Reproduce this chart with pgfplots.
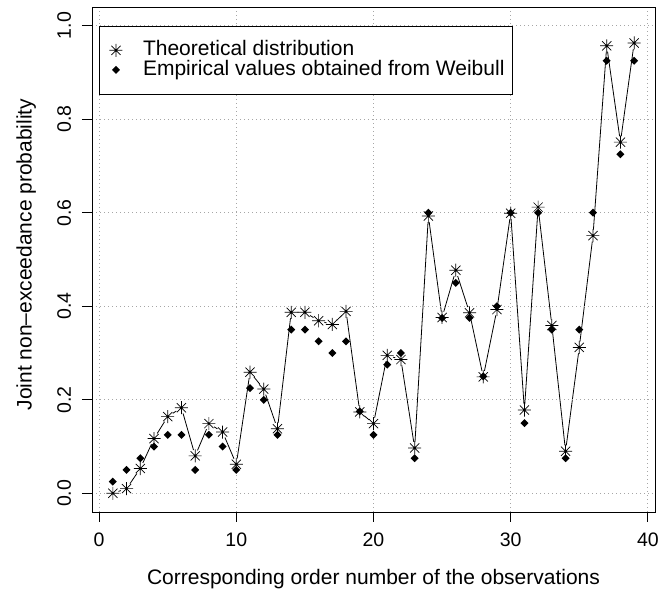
\documentclass[border=0pt]{standalone}
\usepackage{fontspec}
\setmainfont{Liberation Sans}
\usepackage{pgfplots}
\usepackage{pgfplotstable}
\pgfplotsset{compat=1.18}
\pgfdeclareplotmark{rstar}{%
  \pgfpathmoveto{\pgfqpoint{-\pgfplotmarksize}{0pt}}%
  \pgfpathlineto{\pgfqpoint{\pgfplotmarksize}{0pt}}%
  \pgfpathmoveto{\pgfqpoint{0pt}{-\pgfplotmarksize}}%
  \pgfpathlineto{\pgfqpoint{0pt}{\pgfplotmarksize}}%
  \pgfpathmoveto{\pgfqpoint{-0.7071\pgfplotmarksize}{-0.7071\pgfplotmarksize}}%
  \pgfpathlineto{\pgfqpoint{0.7071\pgfplotmarksize}{0.7071\pgfplotmarksize}}%
  \pgfpathmoveto{\pgfqpoint{-0.7071\pgfplotmarksize}{0.7071\pgfplotmarksize}}%
  \pgfpathlineto{\pgfqpoint{0.7071\pgfplotmarksize}{-0.7071\pgfplotmarksize}}%
  \pgfusepathqstroke}
\pgfdeclareplotmark{rdiamond}{%
  \pgfpathmoveto{\pgfqpoint{0pt}{\pgfplotmarksize}}%
  \pgfpathlineto{\pgfqpoint{\pgfplotmarksize}{0pt}}%
  \pgfpathlineto{\pgfqpoint{0pt}{-\pgfplotmarksize}}%
  \pgfpathlineto{\pgfqpoint{-\pgfplotmarksize}{0pt}}%
  \pgfpathclose
  \pgfusepathqfill}
\pgfdeclareplotmark{gapdisk}{%
  \pgfpathcircle{\pgfpointorigin}{\pgfplotmarksize}%
  \pgfusepathqfill}
\pgfplotsset{markleg/.style={legend image code/.code={\draw[##1] plot coordinates {(8pt,0pt)}; \path (0pt,0pt) (16pt,0pt);}}}
\pgfplotstableread{
i theo emp
1 0.000 0.025
2 0.010 0.050
3 0.053 0.075
4 0.117 0.100
5 0.164 0.125
6 0.183 0.125
7 0.080 0.050
8 0.149 0.125
9 0.131 0.100
10 0.062 0.050
11 0.259 0.225
12 0.223 0.200
13 0.138 0.125
14 0.387 0.350
15 0.387 0.350
16 0.369 0.325
17 0.361 0.300
18 0.389 0.325
19 0.174 0.175
20 0.149 0.125
21 0.295 0.275
22 0.286 0.300
23 0.097 0.075
24 0.593 0.600
25 0.376 0.375
26 0.477 0.450
27 0.386 0.375
28 0.249 0.250
29 0.393 0.400
30 0.599 0.600
31 0.178 0.150
32 0.612 0.600
33 0.359 0.350
34 0.090 0.075
35 0.312 0.350
36 0.551 0.600
37 0.957 0.925
38 0.751 0.725
39 0.963 0.925
}\datatab
\begin{document}
\fontsize{21}{25}\selectfont
\begin{tikzpicture}
\useasboundingbox (0pt,0pt) rectangle (659pt,591pt);
\begin{axis}[
  at={(92pt,79pt)}, anchor=south west,
  width=563pt, height=505pt, scale only axis,
  xmin=-0.52, xmax=40.52, ymin=-0.04, ymax=1.04,
  xtick={0,10,20,30,40},
  ytick={0,0.2,0.4,0.6,0.8,1},
  yticklabels={0.0,0.2,0.4,0.6,0.8,1.0},
  xtick pos=bottom, ytick pos=left, tick align=outside,
  major tick length=10pt,
  every tick/.style={black, line width=0.8pt},
  axis line style={line width=0.8pt},
  grid=major,
  grid style={black!35, line width=0.8pt, dash pattern=on 0.8pt off 3.2pt},
  axis on top,
  /pgf/number format/assume math mode=true,
  tick label style={font=\fontsize{19.5}{23}\selectfont, inner sep=0pt},
  xticklabel style={anchor=north, yshift=-11pt},
  yticklabel style={rotate=90, anchor=base, yshift=11pt},
  xlabel style={font=\fontsize{22.3}{26}\selectfont, inner sep=0pt},
  ylabel style={font=\fontsize{21.3}{25}\selectfont, inner sep=0pt},
  xlabel={Corresponding order number of the observations},
  ylabel={Joint non\textendash exceedance probability},
  every axis x label/.style={at={(axis description cs:0.5,0)}, anchor=base, yshift=-73pt},
  every axis y label/.style={at={(axis description cs:0,0.5)}, anchor=base, rotate=90, yshift=60.3pt, xshift=5pt},
  legend style={at={(axis cs:0,1)}, anchor=north west, draw=black, line width=0.8pt,
    inner xsep=8pt, inner ysep=14.5pt, row sep=0pt, column sep=18.7pt,
    font=\fontsize{21}{25}\selectfont,
    nodes={inner sep=0pt, text height=15pt, text depth=4.5pt}},
  legend cell align=left,
]
\addplot[black, line width=0.8pt, forget plot] table[x=i, y=theo] {\datatab};
\addplot[only marks, mark=gapdisk, mark size=6pt, white, mark options={white, fill=white}, forget plot] table[x=i, y=theo] {\datatab};
\addplot[only marks, mark=rstar, mark size=6.5pt, black, line width=0.7pt, markleg] table[x=i, y=theo] {\datatab};
\addlegendentry{Theoretical distribution}
\addplot[only marks, mark=rdiamond, mark size=4pt, black, markleg] table[x=i, y=emp] {\datatab};
\addlegendentry{Empirical values obtained from Weibull}
\end{axis}
\end{tikzpicture}
\end{document}
